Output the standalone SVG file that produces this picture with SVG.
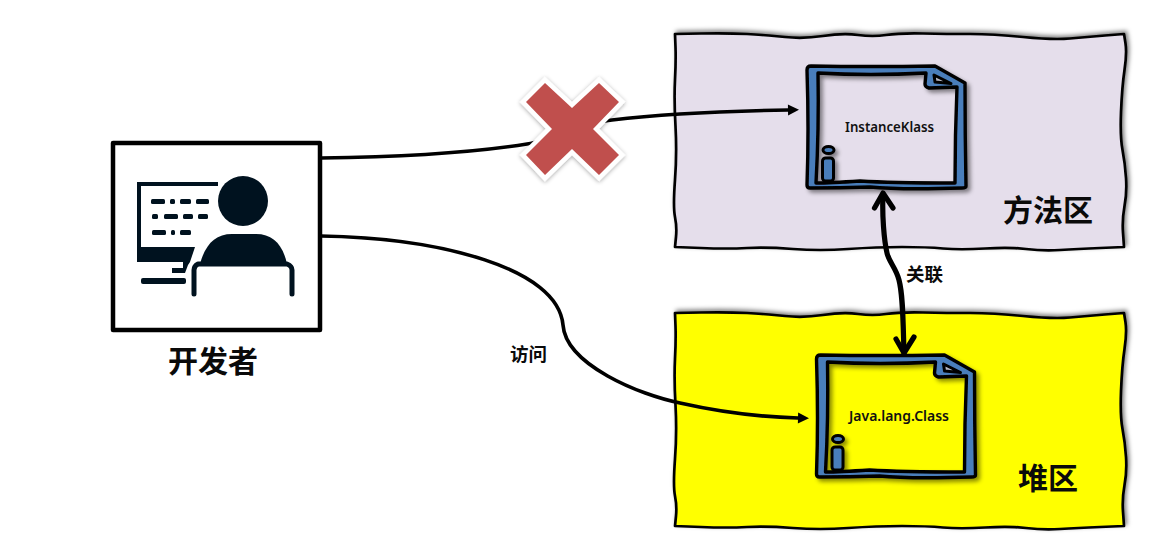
<svg xmlns="http://www.w3.org/2000/svg" width="1176" height="543" viewBox="0 0 1176 543">
<style>
.cjk{font-family:"Noto Sans CJK SC","Noto Sans",sans-serif;font-weight:700;fill:#0a0a0a}
.big{font-size:30px}
.small{font-size:18.5px}
.cls{font-family:"Noto Sans","Noto Sans CJK SC",sans-serif;font-weight:600;font-size:13.500px;fill:#111}
.ln{fill:none;stroke:#000;stroke-linecap:round;stroke-linejoin:round}
.region{stroke:#000;stroke-width:2.700;stroke-linejoin:round}
.ink{fill:#00121f}
.inkl{fill:none;stroke:#00121f;stroke-linecap:round;stroke-linejoin:round}
</style>
<defs>
<filter id="regionShadow" x="-5%" y="-8%" width="110%" height="116%"><feDropShadow dx="2" dy="-2" stdDeviation="2.200" flood-color="#000" flood-opacity=".5"/></filter>
<filter id="docShadow" x="-10%" y="-10%" width="125%" height="125%"><feDropShadow dx="3" dy="3" stdDeviation="2" flood-color="#000" flood-opacity=".45"/></filter>
<filter id="crossShadow" x="-15%" y="-15%" width="130%" height="130%"><feDropShadow dx="0" dy="1" stdDeviation="2" flood-color="#000" flood-opacity=".35"/></filter>
<marker id="arr" markerUnits="userSpaceOnUse" markerWidth="16" markerHeight="16" refX="2" refY="8" orient="auto"><path d="M2 2.500L13 8L2 13.500Z" fill="#000"/></marker>
<path id="rough" d="M675 34L701 33.500Q727 33 747 34Q767 35 785 37Q803 39 823 36Q843 33 858 35Q873 37 886 35Q900 33 923 33.500Q947 34 970 34Q993 34 1023 37Q1053 40 1070 38.500Q1087 37 1105 35.500L1124 34L1125.500 43.500Q1127 53 1124.500 70Q1122 87 1121 112Q1120 137 1122.500 150Q1125 163 1126 178Q1127 193 1124.500 206Q1122 220 1123 233L1124 247L1100 248Q1077 249 1060 250Q1043 251 1026 249Q1010 247 985 248.500Q960 250 943 248.500Q927 247 902 247Q877 247 848 249Q820 251 793 249Q767 247 747 248Q727 249 701 248L675 247L676 237Q677 227 675 217Q673 207 675 180Q677 153 675.500 126Q674 100 675 80Q676 60 675.500 47Z"/>
<g id="doc" filter="url(#docShadow)">
<path fill="#4a7ebb" fill-rule="evenodd" stroke="#000" stroke-width="3.400" stroke-linejoin="round" d="M811 66Q870 67 935 66L965 83Q965 135 966 186Q966 188 962 188Q900 190 870 187Q840 188 810 188Q807 188 807 185Q809 130 807 70Q807 66 811 66ZM818 73Q870 76 926 73L925 84Q925 87 929 88L957 87Q955 135 955 183Q890 183 860 181Q830 183 816 183Q819 130 818 73Z"/>
<path fill="#b9b9c4" stroke="#000" stroke-width="3" stroke-linejoin="round" d="M934 75L935 82L951 83.500Z"/>
<ellipse cx="828.500" cy="150" rx="5.500" ry="3.500" fill="#4a7ebb" stroke="#000" stroke-width="3"/>
<rect x="822.500" y="158" width="11" height="23" rx="3" fill="#4a7ebb" stroke="#000" stroke-width="3"/>
</g>
</defs>
<rect width="1176" height="543" fill="#fff"/>

<g id="method-area">
<use href="#rough" class="region" fill="#e5deeb" filter="url(#regionShadow)"/>
<text class="cjk big" x="1003" y="221">方法区</text>
</g>
<g id="heap-area">
<use href="#rough" class="region" fill="#ffff00" filter="url(#regionShadow)" transform="translate(0,279)"/>
<text class="cjk big" x="1018" y="489">堆区</text>
</g>

<g id="connectors">
<path class="ln" stroke-width="3.600" marker-end="url(#arr)" d="M321 158C400 157 470 153 527 144C555 139 585 123 612 120C670 113 730 111 788 110"/>
<path class="ln" stroke-width="3.600" marker-end="url(#arr)" d="M321 236C440 238 558 268 563 325C566 365 640 395 680 403C720 412 760 417 798 418"/>
<path class="ln" stroke-width="5.200" d="M883 194C882 215 884 240 887 253C889 262 896 268 899 280C903 295 903 320 904 353"/>
<path class="ln" stroke-width="5.200" d="M874.500 208L883 193L893 208"/>
<path class="ln" stroke-width="5.200" d="M896 339L904 353L914 337"/>
</g>

<g id="instance-klass">
<use href="#doc"/>
<text class="cls" x="845" y="132" textLength="89" lengthAdjust="spacingAndGlyphs">InstanceKlass</text>
</g>
<g id="java-lang-class">
<use href="#doc" transform="translate(9.500,289)"/>
<text class="cls" x="849" y="421" textLength="100" lengthAdjust="spacingAndGlyphs">Java.lang.Class</text>
</g>

<g id="cross">
<polygon filter="url(#crossShadow)" fill="#c0504d" stroke="#fff" stroke-width="9" paint-order="stroke" stroke-linejoin="miter" points="545,83 526,102 552,129 526,155 545,175 572,149 599,175 619,155 593,129 619,102 599,83 572,108"/>
</g>

<g id="developer">
<rect x="113" y="143" width="207" height="187" fill="#fff" stroke="#000" stroke-width="4.500" stroke-linejoin="round"/>
<path class="ink" d="M137 182H218V186H141V247H195L190 262H183V268L175 268H172V273H185L188 265L190 262H137Z"/>
<rect class="ink" x="141" y="278" width="45" height="6" rx="2"/>
<g class="ink">
<rect x="151" y="199" width="14" height="5" rx="1.500"/><rect x="170" y="199" width="5" height="5" rx="1.500"/><rect x="180" y="199" width="11" height="5" rx="1.500"/><rect x="196" y="199" width="13" height="5" rx="1.500"/>
<rect x="152" y="214" width="6" height="5" rx="1.500"/><rect x="164" y="214" width="14" height="5" rx="1.500"/><rect x="183" y="214" width="10" height="5" rx="1.500"/><rect x="198" y="214" width="10" height="5" rx="1.500"/>
<rect x="152" y="230" width="14" height="5" rx="1.500"/><rect x="171" y="230" width="4" height="5" rx="1.500"/><rect x="180" y="230" width="11" height="5" rx="1.500"/>
</g>
<circle class="ink" cx="243" cy="201" r="25"/>
<path class="ink" d="M200 264C205 245 215 234 232 234H256C273 234 283 245 287 264Z"/>
<path class="inkl" stroke-width="5" d="M194 294V270Q194 266 198 264H287Q292 266 292 270V294"/>
<text class="cjk big" x="168" y="372">开发者</text>
</g>

<g id="labels">
<text class="cjk small" x="906" y="281">关联</text>
<text class="cjk small" x="510" y="361">访问</text>
</g>
</svg>
